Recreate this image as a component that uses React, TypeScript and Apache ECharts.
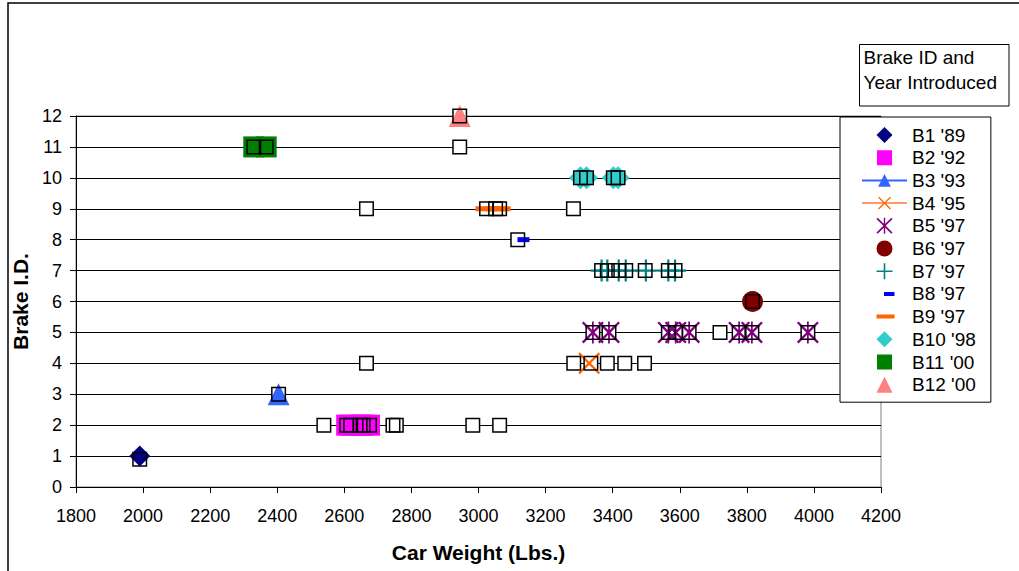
import React, { useEffect, useRef } from 'react';
import * as echarts from 'echarts';

const FONT = '"Liberation Sans", Arial, Helvetica, sans-serif';

// axis ranges
const xMin = 1800;
const xMax = 4200;
const xStep = 200;
const yMin = 0;
const yMax = 12;
const yStep = 1;

// brake series (car weight in lbs, brake id)
const b1X = [1990];
const b1Y = [1];
const b2X = [2607, 2619, 2647, 2656, 2675];
const b2Y = [2, 2, 2, 2, 2];
const b3X = [2404];
const b3Y = [3];
const b4X = [3330];
const b4Y = [4];
const b5X = [3341, 3389, 3566, 3588, 3628, 3777, 3815, 3982];
const b5Y = [5, 5, 5, 5, 5, 5, 5, 5];
const b6X = [3817];
const b6Y = [6];
const b7X = [3367, 3384, 3418, 3439, 3499, 3566, 3586];
const b7Y = [7, 7, 7, 7, 7, 7, 7];
const b8X = [3134];
const b8Y = [8];
const b9X = [3024, 3051, 3063];
const b9Y = [9, 9, 9];
const b10X = [3304, 3322, 3402, 3416];
const b10Y = [10, 10, 10, 10];
const b11X = [2330, 2367];
const b11Y = [11, 11];
const b12X = [2944];
const b12Y = [12];

// all cars (hollow squares)
const carX = [
  2944,
  2330, 2367, 2944,
  3304, 3322, 3402, 3416,
  2666, 3024, 3051, 3063, 3283,
  3117,
  3367, 3384, 3418, 3439, 3497, 3566, 3586,
  3817,
  3341, 3389, 3566, 3588, 3628, 3720, 3777, 3815, 3982,
  2666, 3284, 3335, 3384, 3436, 3495,
  2404,
  2539, 2607, 2619, 2647, 2656, 2675, 2745, 2755, 2983, 3063,
  1990,
];
const carY = [
  12,
  11, 11, 11,
  10, 10, 10, 10,
  9, 9, 9, 9, 9,
  8,
  7, 7, 7, 7, 7, 7, 7,
  6,
  5, 5, 5, 5, 5, 5, 5, 5, 5,
  4, 4, 4, 4, 4, 4,
  3,
  2, 2, 2, 2, 2, 2, 2, 2, 2, 2,
  0.9,
];

const names = ["B1 '89", "B2 '92", "B3 '93", "B4 '95", "B5 '97", "B6 '97", "B7 '97", "B8 '97", "B9 '97", "B10 '98", "B11 '00", "B12 '00"];

const SYM_X = 'path://M0,1.5L1.5,0L10,8.5L18.5,0L20,1.5L11.5,10L20,18.5L18.5,20L10,11.5L1.5,20L0,18.5L8.5,10Z';
const SYM_STAR = SYM_X + 'M9.2,0H10.8V20H9.2Z';
const SYM_PLUS = 'path://M9,0H11V9H20V11H11V20H9V11H0V9H9Z';

// legend icons drawn inside a 45x16 box
const icon = (d: string) => 'path://M0,0L0.01,0Z ' + d + ' M45,16L44.99,16Z';
const ICON_DIAMOND = icon('M22.5,-0.5L31,8L22.5,16.5L14,8Z');
const ICON_SQUARE = icon('M15,0.5H30V15.5H15Z');
const ICON_CIRCLE = icon('M14.5,8A8,8,0,1,1,30.5,8A8,8,0,1,1,14.5,8Z');
const ICON_TRIANGLE = icon('M22.5,0L30.5,16L14.5,16Z');
const ICON_PLUS = icon('M21.7,0H23.3V7.2H30.5V8.8H23.3V16H21.7V8.8H14.5V7.2H21.7Z');
const ICON_STAR = icon(
  'M14.5,1.2L15.7,0L22.5,6.8L29.3,0L30.5,1.2L23.7,8L30.5,14.8L29.3,16L22.5,9.2L15.7,16L14.5,14.8L21.3,8Z M21.8,0H23.2V16H21.8Z'
);
const ICON_B8 = icon('M22,6H32.5V10H22Z');
const ICON_B9 = icon('M14.5,6H32.5V10H14.5Z');

const legendIcons: (string | null)[] = [
  ICON_DIAMOND,
  ICON_SQUARE,
  null,
  null,
  ICON_STAR,
  ICON_CIRCLE,
  ICON_PLUS,
  ICON_B8,
  ICON_B9,
  ICON_DIAMOND,
  ICON_SQUARE,
  ICON_TRIANGLE,
];

const zip = (xs: number[], ys: number[]) => xs.map((x, i) => [x, ys[i]]);

function sc(name: string, xs: number[], ys: number[], symbol: string, size: any, color: string) {
  return {
    type: 'scatter',
    name,
    data: zip(xs, ys),
    symbol,
    symbolSize: size,
    itemStyle: { color, opacity: 1 },
    z: 3,
    silent: true,
    emphasis: { disabled: true },
  };
}

export default function App() {
  const ref = useRef<HTMLDivElement>(null);
  useEffect(() => {
    if (!ref.current) return;
    const chart = echarts.init(ref.current, undefined, { renderer: 'svg' });
    const option: any = {
      animation: false,
      backgroundColor: '#fff',
      textStyle: { fontFamily: FONT },
      grid: {
        left: 76,
        top: 116,
        right: 138,
        bottom: 84,
        show: true,
        borderColor: '#808080',
        borderWidth: 1,
        backgroundColor: 'rgba(0,0,0,0)',
      },
      xAxis: {
        type: 'value',
        min: xMin,
        max: xMax,
        interval: xStep,
        axisLine: { show: true, onZero: false, lineStyle: { color: '#000', width: 1 } },
        axisTick: { show: true, length: 6, lineStyle: { color: '#000' } },
        axisLabel: {
          margin: 20,
          fontSize: 18,
          color: '#000',
          fontFamily: FONT,
          formatter: (v: number) => String(v),
        },
        splitLine: { show: false },
        name: 'Car Weight (Lbs.)',
        nameLocation: 'middle',
        nameGap: 55,
        nameTextStyle: { fontSize: 21, fontWeight: 'bold', color: '#000', fontFamily: FONT },
      },
      yAxis: {
        type: 'value',
        min: yMin,
        max: yMax,
        interval: yStep,
        axisLine: { show: true, onZero: false, lineStyle: { color: '#000', width: 1 } },
        axisTick: { show: true, length: 6, lineStyle: { color: '#000' } },
        axisLabel: { margin: 14, fontSize: 18, color: '#000', fontFamily: FONT },
        splitLine: { show: true, lineStyle: { color: '#000', width: 1 } },
        name: 'Brake I.D.',
        nameLocation: 'middle',
        nameGap: 45,
        nameTextStyle: { fontSize: 21, fontWeight: 'bold', color: '#000', fontFamily: FONT },
      },
      legend: {
        orient: 'vertical',
        left: 840,
        top: 117,
        padding: [8.5, 15, 8, 21],
        itemWidth: 45,
        itemHeight: 16,
        itemGap: 3.7,
        backgroundColor: '#fff',
        borderColor: '#000',
        borderWidth: 1,
        selectedMode: false,
        z: 10,
        textStyle: { fontFamily: FONT, fontSize: 19, color: '#000' },
        data: names.map((n, i) => (legendIcons[i] ? { name: n, icon: legendIcons[i] } : { name: n })),
      },
      graphic: [
        {
          type: 'rect',
          silent: true,
          z: 100,
          shape: { x: 8, y: 3, width: 1200, height: 800 },
          style: { fill: 'rgba(0,0,0,0)', stroke: '#000', lineWidth: 1.5 },
        },
        {
          type: 'group',
          z: 100,
          silent: true,
          children: [
            {
              type: 'rect',
              shape: { x: 859.5, y: 44.5, width: 149.5, height: 61.5 },
              style: { fill: '#fff', stroke: '#000', lineWidth: 1 },
            },
            {
              type: 'text',
              x: 863.5,
              y: 57.3,
              style: { text: 'Brake ID and', fill: '#000', font: '19px ' + FONT, verticalAlign: 'middle', align: 'left' },
            },
            {
              type: 'text',
              x: 863.5,
              y: 82.7,
              style: { text: 'Year Introduced', fill: '#000', font: '19px ' + FONT, verticalAlign: 'middle', align: 'left' },
            },
          ],
        },
      ],
      series: [
        {
          type: 'scatter',
          name: 'cars-bg',
          data: zip(carX, carY),
          symbol: 'rect',
          symbolSize: 13.5,
          itemStyle: { color: '#fff', opacity: 1 },
          z: 2,
          silent: true,
        },
        sc(names[0], b1X, b1Y, 'diamond', 21, '#000080'),
        sc(names[1], b2X, b2Y, 'rect', 21, '#FF00FF'),
        {
          type: 'line',
          name: names[2],
          data: zip(b3X, b3Y),
          symbol: 'triangle',
          symbolSize: 22,
          showSymbol: true,
          lineStyle: { color: '#3366FF', width: 1 },
          itemStyle: { color: '#3366FF', opacity: 1 },
          z: 3,
          silent: true,
        },
        {
          type: 'line',
          name: names[3],
          data: zip(b4X, b4Y),
          symbol: SYM_X,
          symbolSize: 22,
          showSymbol: true,
          lineStyle: { color: '#FF9966', width: 1.5 },
          itemStyle: { color: '#FF6600', opacity: 1 },
          z: 3,
          silent: true,
        },
        sc(names[4], b5X, b5Y, SYM_STAR, 22, '#800080'),
        sc(names[5], b6X, b6Y, 'circle', 21, '#800000'),
        sc(names[6], b7X, b7Y, SYM_PLUS, 22, '#008080'),
        sc(names[7], b8X, b8Y, 'rect', [12, 5], '#0000FF'),
        sc(names[8], b9X, b9Y, 'rect', [22, 5], '#FF6600'),
        sc(names[9], b10X, b10Y, 'diamond', 23, '#33CCCC'),
        sc(names[10], b11X, b11Y, 'rect', 21, '#008000'),
        sc(names[11], b12X, b12Y, 'triangle', 22, '#FF8080'),
        {
          type: 'scatter',
          name: 'cars',
          data: zip(carX, carY),
          symbol: 'rect',
          symbolSize: 13.5,
          itemStyle: { color: 'rgba(0,0,0,0)', borderColor: '#000', borderWidth: 1.5, opacity: 1 },
          z: 4,
          silent: true,
        },
      ],
    };
    chart.setOption(option);
    return () => chart.dispose();
  }, []);
  return (
    <div
      ref={ref}
      style={{ position: 'fixed', left: 0, top: 0, width: 1019, height: 571, background: '#fff' }}
    />
  );
}
